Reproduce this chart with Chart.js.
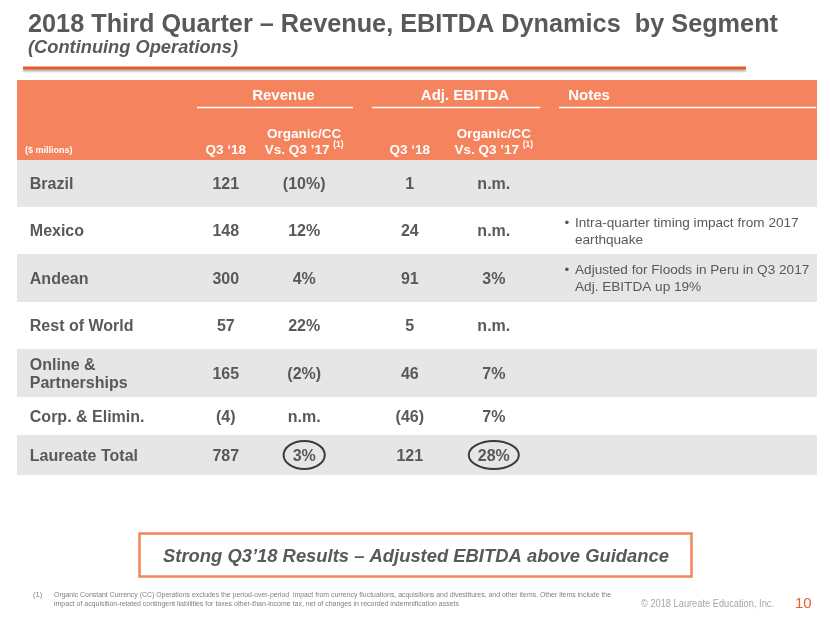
<!DOCTYPE html>
<html>
<head>
<meta charset="utf-8">
<title>Revenue, EBITDA by Segment</title>
<script src="https://cdn.jsdelivr.net/npm/chart.js@4.4.1/dist/chart.umd.min.js"></script>
<style>
	html, body { margin: 0; padding: 0; background: #fff; }
	canvas { display: block; }
</style>
</head>
<body>
<canvas id="tablaSegmentos" width="830" height="623"></canvas>
<script>
// datos de la tabla
var segments = ['Brazil', 'Mexico', 'Andean', 'Rest of World', 'Online &\nPartnerships', 'Corp. & Elimin.', 'Laureate Total'];
var revenueQ3 = [121, 148, 300, 57, 165, -4, 787];
var revenueOrganic = [-10, 12, 4, 22, -2, null, 3];
var ebitdaQ3 = [1, 24, 91, 5, 46, -46, 121];
var ebitdaOrganic = [null, null, 3, null, 7, 7, 28];
var notes = ['', 'Intra-quarter timing impact from 2017\nearthquake', 'Adjusted for Floods in Peru in Q3 2017\nAdj. EBITDA up 19%', '', '', '', ''];
var circled = [false, false, false, false, false, false, true];
var groupHeaders = ['Revenue', 'Adj. EBITDA', 'Notes'];
var subHeaders = ['Q3 \u201818', 'Organic/CC\nVs. Q3 \u201917'];

// layout (x en % del ancho de la tabla, y en unidades de fila)
var headerHeight = 80;
var rowHeights = [47, 47, 48, 47, 48, 38, 40];
var col = { label: 1.6, revQ3: 26.1, revOrg: 35.9, ebQ3: 49.1, ebOrg: 59.6, bullet: 68.75, note: 69.75 };

var TXT = '#595959';
var ORANGE = '#F5845E';
var BAND = '#E6E6E6';
var FONT = '"Liberation Sans", Arial, sans-serif';

var rowTop = [], rowMid = [];
var acc = headerHeight;
for (var i = 0; i < rowHeights.length; i++) {
	rowTop.push(acc);
	rowMid.push(acc + rowHeights[i] / 2);
	acc += rowHeights[i];
}
var tableBottom = acc;

function fmtNum(v) {
	return v < 0 ? '(' + (-v) + ')' : String(v);
}
function fmtPct(v) {
	if (v === null) return 'n.m.';
	return v < 0 ? '(' + (-v) + '%)' : v + '%';
}
function points(values, x, fmt) {
	return values.map(function (v, i) {
		return { x: x, y: rowMid[i], text: fmt(v), circle: circled[i] };
	});
}

// texto con baseline calculada desde el centro de la mayuscula
function capText(ctx, text, x, cy, size) {
	ctx.fillText(text, x, cy + size * 0.358);
}
// escala horizontal para que el texto ocupe un ancho dado
function fitText(ctx, text, x, y, width) {
	var w = ctx.measureText(text).width;
	ctx.save();
	ctx.translate(x, y);
	ctx.scale(width / w, 1);
	ctx.fillText(text, 0, 0);
	ctx.restore();
}

var tablaPlugin = {
	id: 'tabla',
	beforeDatasetsDraw: function (chart) {
		var ctx = chart.ctx;
		var xs = chart.scales.x, ys = chart.scales.y;
		var left = xs.getPixelForValue(0), right = xs.getPixelForValue(100);
		ctx.save();
		// cabecera naranja
		ctx.fillStyle = ORANGE;
		ctx.fillRect(left, ys.getPixelForValue(0), right - left, ys.getPixelForValue(headerHeight) - ys.getPixelForValue(0));
		// bandas grises
		ctx.fillStyle = BAND;
		for (var i = 0; i < rowTop.length; i += 2) {
			var t = ys.getPixelForValue(rowTop[i]);
			var b = ys.getPixelForValue(rowTop[i] + rowHeights[i]);
			ctx.fillRect(left, t, right - left, b - t);
		}
		// textos de cabecera
		ctx.fillStyle = '#fff';
		ctx.textAlign = 'center';
		ctx.font = 'bold 15px ' + FONT;
		capText(ctx, groupHeaders[0], xs.getPixelForValue(33.3), ys.getPixelForValue(15), 15);
		capText(ctx, groupHeaders[1], xs.getPixelForValue(56.0), ys.getPixelForValue(15), 15);
		ctx.textAlign = 'left';
		capText(ctx, groupHeaders[2], xs.getPixelForValue(68.9), ys.getPixelForValue(15), 15);
		ctx.strokeStyle = '#fff';
		ctx.lineWidth = 1.5;
		[[22.5, 42.0], [44.4, 65.4], [67.75, 99.9]].forEach(function (u) {
			ctx.beginPath();
			ctx.moveTo(xs.getPixelForValue(u[0]), ys.getPixelForValue(27) + 0.5);
			ctx.lineTo(xs.getPixelForValue(u[1]), ys.getPixelForValue(27) + 0.5);
			ctx.stroke();
		});
		ctx.font = 'bold 9px ' + FONT;
		capText(ctx, '($ millions)', xs.getPixelForValue(1), ys.getPixelForValue(70), 9);
		ctx.textAlign = 'center';
		ctx.font = 'bold 13.5px ' + FONT;
		var sub = subHeaders[1].split('\n');
		[col.revQ3, col.ebQ3].forEach(function (cx) {
			capText(ctx, subHeaders[0], xs.getPixelForValue(cx), ys.getPixelForValue(69), 13.5);
		});
		[col.revOrg, col.ebOrg].forEach(function (cx) {
			var px = xs.getPixelForValue(cx);
			ctx.font = 'bold 13.5px ' + FONT;
			ctx.textAlign = 'center';
			capText(ctx, sub[0], px, ys.getPixelForValue(53), 13.5);
			var w1 = ctx.measureText(sub[1] + ' ').width;
			ctx.font = 'bold 8.5px ' + FONT;
			var w2 = ctx.measureText('(1)').width;
			var x0 = px - (w1 + w2) / 2;
			ctx.textAlign = 'left';
			ctx.font = 'bold 13.5px ' + FONT;
			capText(ctx, sub[1], x0, ys.getPixelForValue(69), 13.5);
			ctx.font = 'bold 8.5px ' + FONT;
			capText(ctx, '(1)', x0 + w1, ys.getPixelForValue(64), 8.5);
		});
		ctx.restore();
	},
	afterDatasetsDraw: function (chart) {
		var ctx = chart.ctx;
		ctx.save();
		ctx.fillStyle = TXT;
		chart.data.datasets.forEach(function (ds, d) {
			var meta = chart.getDatasetMeta(d);
			meta.data.forEach(function (pt, i) {
				var raw = ds.data[i];
				if (!raw.text) return;
				var lines = raw.text.split('\n');
				var size = ds.fontSize;
				var gap = ds.lineGap;
				ctx.font = (ds.bold ? 'bold ' : '') + size + 'px ' + FONT;
				ctx.textAlign = ds.align;
				lines.forEach(function (ln, k) {
					var cy = pt.y + (k - (lines.length - 1) / 2) * gap;
					capText(ctx, ln, pt.x, cy, size);
					if (ds.bullet && k === 0) {
						ctx.textAlign = 'center';
						capText(ctx, '\u2022', chart.scales.x.getPixelForValue(col.bullet), cy, size);
						ctx.textAlign = ds.align;
					}
				});
				if (ds.circleable && raw.circle) {
					var w = ctx.measureText(raw.text).width;
					ctx.strokeStyle = '#3A3A3A';
					ctx.lineWidth = 2;
					ctx.beginPath();
					ctx.ellipse(pt.x, pt.y, w / 2 + 9, 14, 0, 0, Math.PI * 2);
					ctx.stroke();
				}
			});
		});
		ctx.restore();
	},
	afterDraw: function (chart) {
		var ctx = chart.ctx;
		ctx.save();
		// titulo
		ctx.fillStyle = TXT;
		ctx.textAlign = 'left';
		ctx.font = 'bold 25px ' + FONT;
		fitText(ctx, '2018 Third Quarter \u2013 Revenue, EBITDA Dynamics  by Segment', 28, 32, 750);
		ctx.font = 'italic bold 18px ' + FONT;
		fitText(ctx, '(Continuing Operations)', 28, 53, 210);
		// linea naranja bajo el titulo
		ctx.save();
		ctx.shadowColor = 'rgba(0,0,0,0.3)';
		ctx.shadowBlur = 2;
		ctx.shadowOffsetY = 2;
		ctx.strokeStyle = '#E85D27';
		ctx.lineWidth = 3;
		ctx.beginPath();
		ctx.moveTo(23, 68);
		ctx.lineTo(746, 68);
		ctx.stroke();
		ctx.restore();
		// recuadro de conclusion
		ctx.strokeStyle = '#F2855C';
		ctx.lineWidth = 2.5;
		ctx.strokeRect(139.5, 533.5, 552, 43);
		ctx.font = 'italic bold 18.4px ' + FONT;
		ctx.fillStyle = TXT;
		fitText(ctx, 'Strong Q3\u201918 Results \u2013 Adjusted EBITDA above Guidance', 163, 561.5, 506);
		// nota al pie
		ctx.fillStyle = '#7F7F7F';
		ctx.font = '7.5px ' + FONT;
		ctx.fillText('(1)', 33, 597);
		fitText(ctx, 'Organic Constant Currency (CC) Operations excludes the period-over-period  impact from currency fluctuations, acquisitions and divestitures, and other items. Other items include the', 54, 597, 557);
		fitText(ctx, 'impact of acquisition-related contingent liabilities for taxes other-than-income tax, net of changes in recorded indemnification assets', 54, 606, 405);
		ctx.fillStyle = '#A6A6A6';
		ctx.font = '11px ' + FONT;
		fitText(ctx, '\u00A9 2018 Laureate Education, Inc.', 641, 607, 133);
		ctx.fillStyle = '#E8602A';
		ctx.font = '15px ' + FONT;
		ctx.fillText('10', 795, 608);
		ctx.restore();
	}
};

var base = { type: 'scatter', pointRadius: 0, showLine: false, fontSize: 16, lineGap: 18, bold: true, align: 'center' };
function serie(extra) {
	return Object.assign({}, base, extra);
}

new Chart(document.getElementById('tablaSegmentos'), {
	type: 'scatter',
	data: {
		datasets: [
			serie({ label: 'Segment', data: points(segments, col.label, function (s) { return s; }), align: 'left' }),
			serie({ label: 'Revenue Q3 \u201918', data: points(revenueQ3, col.revQ3, fmtNum) }),
			serie({ label: 'Revenue Organic/CC', data: points(revenueOrganic, col.revOrg, fmtPct), circleable: true }),
			serie({ label: 'Adj. EBITDA Q3 \u201918', data: points(ebitdaQ3, col.ebQ3, fmtNum) }),
			serie({ label: 'Adj. EBITDA Organic/CC', data: points(ebitdaOrganic, col.ebOrg, fmtPct), circleable: true }),
			serie({ label: 'Notes', data: points(notes, col.note, function (s) { return s; }), align: 'left', bold: false, fontSize: 13.6, lineGap: 17, bullet: true })
		]
	},
	options: {
		responsive: false,
		animation: false,
		events: [],
		layout: { padding: { left: 17, right: 13, top: 80, bottom: 148 } },
		scales: {
			x: { type: 'linear', min: 0, max: 100, display: false },
			y: { type: 'linear', min: 0, max: tableBottom, reverse: true, display: false }
		},
		plugins: {
			legend: { display: false },
			tooltip: { enabled: false },
			title: { display: false }
		}
	},
	plugins: [tablaPlugin]
});
</script>
</body>
</html>
